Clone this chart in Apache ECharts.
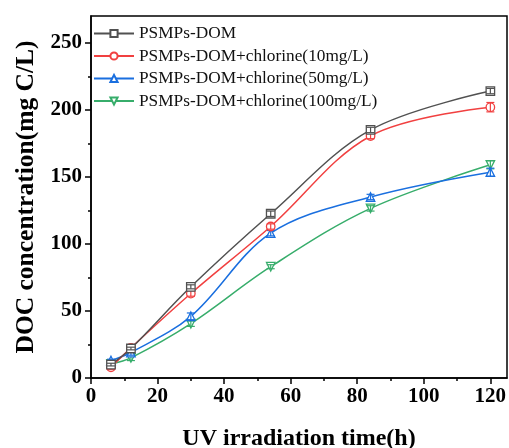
<!DOCTYPE html>
<html><head><meta charset="utf-8">
<script src="https://cdn.jsdelivr.net/npm/echarts@6/dist/echarts.min.js"></script>
<style>html,body{margin:0;padding:0;background:#fff}#c{width:509px;height:448px}</style>
</head><body><div id="c"></div>
<script>
const timeH = [6, 12, 30, 54, 84, 120];
const seriesNames = ['PSMPs-DOM', 'PSMPs-DOM+chlorine(10mg/L)', 'PSMPs-DOM+chlorine(50mg/L)', 'PSMPs-DOM+chlorine(100mg/L)'];
const docControl = [10, 22, 68, 122.5, 185, 214];
const docCl10 = [8, 22.5, 63, 113, 180.5, 202];
const docCl50 = [13, 19, 46, 108, 135, 153.5];
const docCl100 = [10.5, 15, 40.5, 83, 126.5, 159];
const errControl = [1, 1, 1.5, 2, 2, 2];
const errCl10 = [1.5, 2, 2, 2, 2, 3.5];
const errCl50 = [1, 2, 2.5, 2, 2, 3];
const errCl100 = [1.5, 2, 2, 1.5, 2, 3];
const xMajorTicks = [0, 20, 40, 60, 80, 100, 120];
const xMinorTicks = [10, 30, 50, 70, 90, 110];
const yMajorTicks = [0, 50, 100, 150, 200, 250];
const yMinorTicks = [25, 75, 125, 175, 225];

const colors = ['#515151', '#F14040', '#1A6FDF', '#37AD6B'];
const symbols = ['rect', 'circle', 'triangle', 'triangle'];
const rotates = [0, 0, 0, 180];
const values = [docControl, docCl10, docCl50, docCl100];
const errors = [errControl, errCl10, errCl50, errCl100];
const font = 'Liberation Serif, Times New Roman, serif';

const chart = echarts.init(document.getElementById('c'), null, {renderer: 'canvas'});
const axBase = {
  axisLine: {show: true, onZero: false, lineStyle: {color: '#000', width: 1.5}},
  splitLine: {show: false},
};
const lineSeries = seriesNames.map((n, i) => ({
  name: n, type: 'line', smooth: 0.35, xAxisIndex: 0, yAxisIndex: 0,
  data: timeH.map((t, j) => [t, values[i][j]]),
  symbol: symbols[i], symbolRotate: rotates[i], symbolSize: 8.5,
  lineStyle: {color: colors[i], width: 1.5},
  itemStyle: {color: '#fff', borderColor: colors[i], borderWidth: 1.3},
  z: 10 - i
}));
const errSeries = seriesNames.map((n, i) => ({
  type: 'custom', xAxisIndex: 0, yAxisIndex: 0, silent: true, z: 11 - i,
  data: timeH.map((t, j) => [t, values[i][j] - errors[i][j], values[i][j] + errors[i][j]]),
  renderItem: (params, api) => {
    const lo = api.coord([api.value(0), api.value(1)]);
    const hi = api.coord([api.value(0), api.value(2)]);
    const hw = 4;
    const st = {stroke: colors[i], lineWidth: 1.2};
    return {type: 'group', children: [
      {type: 'line', shape: {x1: lo[0], y1: lo[1], x2: hi[0], y2: hi[1]}, style: st},
      {type: 'line', shape: {x1: lo[0] - hw, y1: lo[1], x2: lo[0] + hw, y2: lo[1]}, style: st},
      {type: 'line', shape: {x1: hi[0] - hw, y1: hi[1], x2: hi[0] + hw, y2: hi[1]}, style: st}
    ]};
  }
}));
const option = {
  animation: false,
  color: colors,
  grid: {left: 91, right: 2, top: 16, bottom: 70, show: true, borderColor: '#000', borderWidth: 1.5, containLabel: false, outerBoundsMode: 'none'},
  legend: {
    orient: 'vertical', left: 88, top: 20, itemWidth: 40, itemHeight: 9, itemGap: 5.5,
    textStyle: {fontFamily: font, fontSize: 17.3, color: '#111'},
    data: seriesNames
  },
  xAxis: [{
    ...axBase, type: 'value', min: 0, max: 125,
    name: 'UV irradiation time(h)', nameLocation: 'middle', nameGap: 49,
    nameTextStyle: {fontFamily: font, fontSize: 24, fontWeight: 'bold', color: '#000'},
    axisTick: {show: true, inside: false, length: 6, lineStyle: {color: '#000', width: 1.5}, customValues: xMajorTicks},
    axisLabel: {fontFamily: font, fontSize: 21, fontWeight: 'bold', color: '#000', margin: 8, customValues: xMajorTicks},
  }, {
    type: 'value', min: 0, max: 125, position: 'bottom',
    axisLine: {show: false}, splitLine: {show: false}, axisLabel: {show: false},
    axisTick: {show: true, inside: false, length: 3, lineStyle: {color: '#000', width: 1.5}, customValues: xMinorTicks}
  }],
  yAxis: [{
    ...axBase, type: 'value', min: 0, max: 270,
    name: 'DOC concentration(mg C/L)', nameLocation: 'middle', nameGap: 48,
    nameTextStyle: {fontFamily: font, fontSize: 25.5, fontWeight: 'bold', color: '#000'},
    axisTick: {show: true, inside: false, length: 6, lineStyle: {color: '#000', width: 1.5}, customValues: yMajorTicks},
    axisLabel: {fontFamily: font, fontSize: 21, fontWeight: 'bold', color: '#000', margin: 9, customValues: yMajorTicks},
  }, {
    type: 'value', min: 0, max: 270, position: 'left',
    axisLine: {show: false}, splitLine: {show: false}, axisLabel: {show: false},
    axisTick: {show: true, inside: false, length: 3, lineStyle: {color: '#000', width: 1.5}, customValues: yMinorTicks}
  }],
  series: lineSeries.concat(errSeries)
};
chart.setOption(option);
</script></body></html>
